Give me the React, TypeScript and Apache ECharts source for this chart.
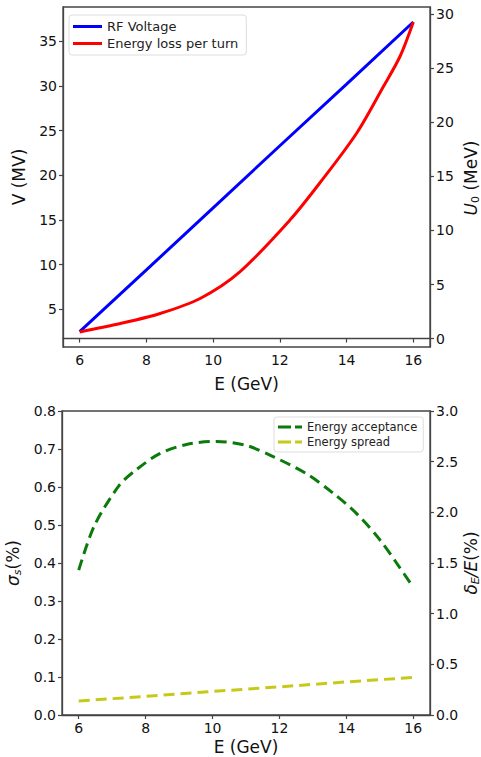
import React, { useEffect, useRef } from "react";
import * as echarts from "echarts";

// Top panel data
const energyV = [6, 8, 10, 12, 14, 16];
const rfVoltage = [2.5, 9.4, 16.35, 23.3, 30.2, 37.15];
const energyU = [6, 7.22, 8.41, 9.61, 10.8, 12.3, 13.19, 14.3, 15.1, 15.6, 16];
const energyLoss = [0.61, 1.39, 2.32, 3.71, 6.17, 10.96, 14.37, 19.0, 23.3, 26.1, 29.3];

// Bottom panel data
const energyAcc = [6, 6.47, 7.22, 7.72, 8.42, 9.22, 10.11, 11.01, 11.81, 12.81, 13.6, 14.3, 15.0, 15.5, 16];
const acceptance = [1.43, 1.87, 2.27, 2.42, 2.58, 2.67, 2.7, 2.66, 2.55, 2.38, 2.19, 1.99, 1.73, 1.5, 1.26];
const energySp = [6, 8, 10, 12, 14, 16];
const spread = [0.037, 0.049, 0.062, 0.074, 0.087, 0.099];

const xTicks = [6, 8, 10, 12, 14, 16];
const vTicks = [5, 10, 15, 20, 25, 30, 35];
const uTicks = [0, 5, 10, 15, 20, 25, 30];

const FONT = "DejaVu Sans";

function zip(xs: number[], ys: number[]) {
  return xs.map((x, i) => [x, ys[i]]);
}

export default function App() {
  const ref = useRef<HTMLDivElement>(null);
  useEffect(() => {
    document.body.style.margin = "0";
    const chart = echarts.init(ref.current!, null, { renderer: "svg" });
    const axisLine = { show: true, lineStyle: { color: "#444", width: 1.3 } };
    const axisTick = { show: true, inside: false, length: 4, lineStyle: { color: "#444", width: 1.2 } };
    const axisLabel = { color: "#111", fontSize: 14, fontFamily: FONT, margin: 6 };
    const nameStyle = { color: "#111", fontSize: 17, fontFamily: FONT };
    const rich = {
      i: { fontStyle: "italic", fontSize: 17, fontFamily: FONT, fill: "#111", color: "#111" },
      n: { fontSize: 17, fontFamily: FONT, fill: "#111", color: "#111" },
      s: { fontSize: 11, fontFamily: FONT, fill: "#111", color: "#111", padding: [9, 0, 0, 0] },
      si: { fontSize: 11, fontStyle: "italic", fontFamily: FONT, fill: "#111", color: "#111", padding: [9, 0, 0, 0] },
    };
    const xBase = (gridIndex: number, gap: number) => ({
      type: "value",
      gridIndex,
      min: 5.5,
      max: 16.5,
      name: "E (GeV)",
      nameLocation: "middle",
      nameGap: gap,
      nameTextStyle: nameStyle,
      axisLine,
      axisTick: { ...axisTick, customValues: xTicks },
      axisLabel: { ...axisLabel, customValues: xTicks },
      splitLine: { show: false },
    });
    const sideName = (text: string, y: number) => ({
      type: "text",
      x: 471,
      y,
      rotation: Math.PI / 2,
      style: {
        text,
        rich,
        fontSize: 17,
        fontFamily: FONT,
        fill: "#111",
        align: "center",
        verticalAlign: "middle",
      },
    });
    chart.setOption({
      animation: false,
      grid: [
        { left: 63, right: 51, top: 7, height: 340, show: true, borderColor: "#444", borderWidth: 1.3, containLabel: false, outerBoundsMode: "none" },
        { left: 62, right: 51, top: 411, height: 304, show: true, borderColor: "#444", borderWidth: 1.3, containLabel: false, outerBoundsMode: "none" },
      ],
      graphic: [
        sideName("{i|U}{s|0} {n|(MeV)}", 178),
        sideName("{i|δ}{si|E}{i|/E}{n|(%)}", 563),
      ],
      legend: [
        {
          data: ["RF Voltage", "Energy loss per turn"],
          left: 69,
          top: 15,
          orient: "vertical",
          icon: "rect",
          itemWidth: 29,
          itemHeight: 3,
          itemGap: 4,
          padding: [5, 8, 5, 4],
          borderColor: "#ddd",
          borderWidth: 1,
          borderRadius: 3,
          backgroundColor: "rgba(255,255,255,0.8)",
          textStyle: { fontSize: 13, fontFamily: FONT, color: "#222" },
        },
        {
          data: ["Energy acceptance", "Energy spread"],
          left: 274,
          top: 417,
          orient: "vertical",
          icon: "path://M0,0h13v3h-13z M17,0h7v3h-7z",
          itemWidth: 24,
          itemHeight: 3,
          itemGap: 3,
          padding: [4, 6, 4, 4],
          borderColor: "#ddd",
          borderWidth: 1,
          borderRadius: 3,
          backgroundColor: "rgba(255,255,255,0.8)",
          textStyle: { fontSize: 11.5, fontFamily: FONT, color: "#222" },
        },
      ],
      xAxis: [xBase(0, 28), xBase(1, 23)],
      yAxis: [
        {
          type: "value",
          gridIndex: 0,
          position: "left",
          min: 0.77,
          max: 38.83,
          name: "V (MV)",
          nameLocation: "middle",
          nameGap: 36,
          nameTextStyle: nameStyle,
          axisLine,
          axisTick: { ...axisTick, customValues: vTicks },
          axisLabel: { ...axisLabel, customValues: vTicks },
          splitLine: { show: false },
        },
        {
          type: "value",
          gridIndex: 0,
          position: "right",
          min: -0.78,
          max: 30.68,
          axisLine,
          axisTick: { ...axisTick, customValues: uTicks },
          axisLabel: { ...axisLabel, customValues: uTicks },
          splitLine: { show: false },
        },
        {
          type: "value",
          gridIndex: 1,
          position: "left",
          min: 0,
          max: 0.8,
          interval: 0.1,
          name: "{i|σ}{si|s}{n|(%)}",
          nameLocation: "middle",
          nameGap: 34,
          nameTextStyle: { ...nameStyle, rich },
          axisLine,
          axisTick,
          axisLabel: { ...axisLabel, formatter: (v: number) => v.toFixed(1) },
          splitLine: { show: false },
        },
        {
          type: "value",
          gridIndex: 1,
          position: "right",
          min: 0,
          max: 3,
          interval: 0.5,
          axisLine,
          axisTick,
          axisLabel: { ...axisLabel, formatter: (v: number) => v.toFixed(1) },
          splitLine: { show: false },
        },
      ],
      series: [
        {
          name: "RF Voltage",
          type: "line",
          xAxisIndex: 0,
          yAxisIndex: 0,
          data: zip(energyV, rfVoltage),
          showSymbol: false,
          symbol: "none",
          lineStyle: { color: "#0000ff", width: 3 },
          itemStyle: { color: "#0000ff" },
        },
        {
          name: "Energy loss per turn",
          type: "line",
          xAxisIndex: 0,
          yAxisIndex: 1,
          data: zip(energyU, energyLoss),
          smooth: 0.3,
          showSymbol: false,
          symbol: "none",
          lineStyle: { color: "#ff0000", width: 3 },
          itemStyle: { color: "#ff0000" },
        },
        {
          name: "Energy acceptance",
          type: "line",
          xAxisIndex: 1,
          yAxisIndex: 3,
          data: zip(energyAcc, acceptance),
          smooth: 0.3,
          showSymbol: false,
          symbol: "none",
          lineStyle: { color: "#0a7a0a", width: 3, type: [11, 6] },
          itemStyle: { color: "#0a7a0a" },
        },
        {
          name: "Energy spread",
          type: "line",
          xAxisIndex: 1,
          yAxisIndex: 2,
          data: zip(energySp, spread),
          showSymbol: false,
          symbol: "none",
          lineStyle: { color: "#c8c81a", width: 3, type: [11, 6] },
          itemStyle: { color: "#c8c81a" },
        },
      ],
    });
    return () => chart.dispose();
  }, []);
  return <div ref={ref} style={{ position: "fixed", left: 0, top: 0, width: 481, height: 757, background: "#fff" }} />;
}
